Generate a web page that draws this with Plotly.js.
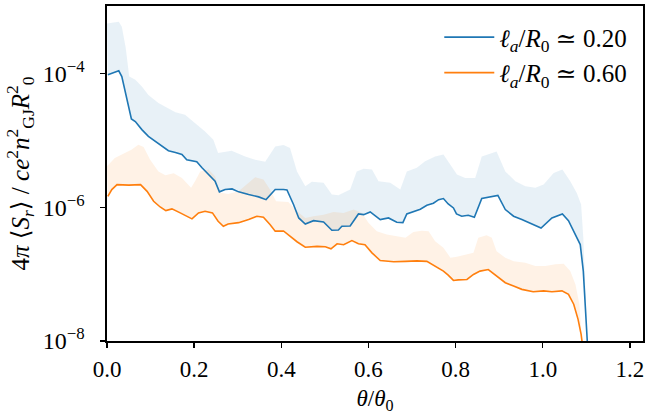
<!DOCTYPE html>
<html>
<head>
<meta charset="utf-8">
<script src="https://cdn.plot.ly/plotly-3.0.1.min.js"></script>
<style>html,body{margin:0;padding:0;background:#fff;}#chart{width:647px;height:414px;}</style>
</head>
<body>
<div id="chart"></div>
<script>
// series 1: l_a/R0 ~ 0.20 (blue)
const blueX = [0.002,0.027,0.034,0.042,0.050,0.056,0.065,0.080,0.095,0.111,0.126,0.141,0.157,0.172,0.183,0.206,0.218,0.233,0.248,0.258,0.271,0.287,0.302,0.325,0.348,0.365,0.386,0.405,0.413,0.428,0.440,0.455,0.474,0.497,0.516,0.531,0.539,0.558,0.577,0.589,0.604,0.627,0.646,0.665,0.679,0.688,0.703,0.719,0.734,0.749,0.761,0.772,0.783,0.795,0.802,0.814,0.829,0.843,0.860,0.879,0.897,0.914,0.933,0.952,0.971,0.996,1.021,1.045,1.059,1.072,1.086,1.093,1.099,1.103];
const blueY = [9.55e-5,1.10e-4,9.0e-5,5.37e-5,3.02e-5,2.09e-5,1.91e-5,1.45e-5,1.15e-5,9.66e-6,8.13e-6,7.01e-6,6.61e-6,6.17e-6,5.13e-6,4.79e-6,3.89e-6,3.09e-6,2.45e-6,1.70e-6,1.84e-6,1.88e-6,1.70e-6,1.55e-6,1.43e-6,1.30e-6,1.84e-6,1.84e-6,1.82e-6,1.10e-6,6.92e-7,5.62e-7,6.31e-7,6.03e-7,4.54e-7,4.57e-7,5.20e-7,5.25e-7,7.94e-7,7.76e-7,8.51e-7,6.55e-7,6.92e-7,5.97e-7,5.89e-7,7.94e-7,8.51e-7,9.33e-7,1.07e-6,1.15e-6,1.30e-6,1.35e-6,1.12e-6,9.77e-7,7.94e-7,7.35e-7,7.59e-7,7.08e-7,1.35e-6,1.41e-6,1.50e-6,9.25e-7,7.35e-7,6.55e-7,5.85e-7,4.90e-7,6.92e-7,7.94e-7,6.31e-7,4.15e-7,2.77e-7,1.11e-7,2.82e-8,7.9e-9];
const blueUpX = [0.0,0.027,0.034,0.043,0.051,0.065,0.080,0.095,0.118,0.141,0.157,0.179,0.202,0.225,0.244,0.255,0.286,0.317,0.340,0.363,0.374,0.386,0.405,0.420,0.436,0.455,0.470,0.497,0.516,0.531,0.558,0.573,0.589,0.608,0.623,0.650,0.673,0.688,0.711,0.730,0.753,0.772,0.788,0.803,0.822,0.845,0.860,0.875,0.894,0.914,0.937,0.960,0.983,1.002,1.025,1.045,1.063,1.078,1.088,1.093,1.099,1.103];
const blueUpY = [5.62e-4,5.97e-4,5.01e-4,2.40e-4,9.0e-5,8.05e-5,6.40e-5,4.79e-5,3.61e-5,3.02e-5,2.63e-5,2.42e-5,1.82e-5,1.36e-5,1.02e-5,6.46e-6,7.01e-6,5.75e-6,5.13e-6,4.79e-6,6.17e-6,8.13e-6,8.5e-6,7.71e-6,3.44e-6,2.06e-6,2.40e-6,2.32e-6,1.55e-6,1.51e-6,1.84e-6,3.44e-6,3.78e-6,3.67e-6,2.45e-6,2.32e-6,1.84e-6,3.44e-6,3.89e-6,4.86e-6,5.75e-6,6.17e-6,4.34e-6,3.09e-6,2.75e-6,2.75e-6,5.75e-6,6.17e-6,6.85e-6,3.44e-6,2.45e-6,2.06e-6,1.95e-6,2.19e-6,3.26e-6,3.67e-6,2.45e-6,1.64e-6,1.10e-6,3.49e-7,3.55e-8,7.9e-9];

// series 2: l_a/R0 ~ 0.60 (orange)
const orangeX = [0.002,0.011,0.023,0.040,0.050,0.077,0.092,0.107,0.122,0.135,0.149,0.168,0.183,0.195,0.210,0.225,0.242,0.255,0.267,0.278,0.302,0.325,0.344,0.359,0.374,0.386,0.405,0.420,0.436,0.455,0.482,0.501,0.514,0.528,0.543,0.562,0.577,0.592,0.608,0.627,0.658,0.685,0.711,0.734,0.753,0.772,0.783,0.795,0.806,0.826,0.841,0.856,0.875,0.894,0.914,0.933,0.952,0.978,1.002,1.021,1.044,1.059,1.071,1.081,1.088,1.092];
const orangeY = [1.46e-6,1.84e-6,2.18e-6,2.14e-6,2.14e-6,2.18e-6,1.73e-6,1.23e-6,1.01e-6,8.91e-7,9.46e-7,8.24e-7,7.35e-7,6.71e-7,8.24e-7,8.71e-7,8.24e-7,6.17e-7,5.20e-7,5.62e-7,5.89e-7,6.55e-7,7.35e-7,7.08e-7,5.52e-7,4.39e-7,4.42e-7,3.69e-7,3.05e-7,2.53e-7,2.60e-7,2.57e-7,2.39e-7,2.84e-7,2.75e-7,3.18e-7,2.84e-7,2.75e-7,2.08e-7,1.60e-7,1.53e-7,1.55e-7,1.58e-7,1.55e-7,1.32e-7,1.11e-7,9.66e-8,8.05e-8,8.2e-8,8.32e-8,9.89e-8,1.11e-7,1.17e-7,9.33e-8,7.45e-8,6.62e-8,5.92e-8,5.46e-8,5.62e-8,5.46e-8,5.62e-8,4.98e-8,3.55e-8,2.11e-8,1.26e-8,7.9e-9];
const orangeUpX = [0.0,0.018,0.041,0.056,0.072,0.084,0.099,0.118,0.134,0.153,0.172,0.193,0.202,0.214,0.233,0.248,0.259,0.278,0.302,0.321,0.340,0.359,0.374,0.388,0.405,0.416,0.436,0.455,0.474,0.497,0.520,0.543,0.566,0.585,0.600,0.619,0.642,0.665,0.685,0.703,0.722,0.738,0.753,0.772,0.788,0.803,0.822,0.841,0.852,0.871,0.883,0.894,0.914,0.933,0.960,0.983,1.006,1.029,1.048,1.063,1.075,1.084,1.090,1.092];
const orangeUpY = [4.09e-6,5.46e-6,6.46e-6,7.26e-6,8.63e-6,7.94e-6,5.13e-6,3.44e-6,3.01e-6,3.24e-6,2.75e-6,1.95e-6,2.45e-6,3.44e-6,3.67e-6,2.92e-6,1.67e-6,1.58e-6,1.74e-6,2.19e-6,2.81e-6,2.60e-6,1.84e-6,1.23e-6,1.23e-6,1.20e-6,8.71e-7,6.92e-7,7.35e-7,7.76e-7,8.51e-7,8.24e-7,9.25e-7,8.24e-7,5.85e-7,4.39e-7,3.92e-7,3.69e-7,3.49e-7,4.27e-7,4.47e-7,4.39e-7,3.11e-7,2.48e-7,1.76e-7,1.82e-7,1.95e-7,2.09e-7,3.49e-7,3.82e-7,3.49e-7,2.20e-7,1.76e-7,1.56e-7,1.48e-7,1.32e-7,1.32e-7,1.40e-7,1.43e-7,1.11e-7,7.01e-8,3.55e-8,1.0e-8,7.9e-9];

const seriesNames = ["<i>ℓ<sub>a</sub></i>/<i>R</i><sub>0</sub> ≃ 0.20", "<i>ℓ<sub>a</sub></i>/<i>R</i><sub>0</sub> ≃ 0.60"];
const xTickVals = [0, 0.2, 0.4, 0.6, 0.8, 1.0, 1.2];
const yTickVals = [1e-8, 1e-6, 1e-4];
const yTickText = ["10<sup>−8</sup>", "10<sup>−6</sup>", "10<sup>−4</sup>"];

const BLUE = "#1f77b4", ORANGE = "#ff7f0e";

function band(xl, yl, xu, yu, color) {
  return {
    x: xu.concat(xl.slice().reverse()),
    y: yu.concat(yl.slice().reverse()),
    type: "scatter", mode: "lines", fill: "toself",
    fillcolor: color, line: {width: 0, color: "rgba(0,0,0,0)"},
    hoverinfo: "skip", showlegend: false
  };
}

const traces = [
  band(blueX, blueY, blueUpX, blueUpY, "rgba(31,119,180,0.1)"),
  band(orangeX, orangeY, orangeUpX, orangeUpY, "rgba(255,127,14,0.1)"),
  {x: blueX, y: blueY, type: "scatter", mode: "lines", name: seriesNames[0],
   line: {color: BLUE, width: 1.6}},
  {x: orangeX, y: orangeY, type: "scatter", mode: "lines", name: seriesNames[1],
   line: {color: ORANGE, width: 1.6}}
];

const FONT = "'Liberation Serif', 'DejaVu Serif', serif";

const layout = {
  width: 647, height: 414,
  margin: {l: 107, r: 4, t: 6, b: 73},
  paper_bgcolor: "#fff", plot_bgcolor: "#fff",
  font: {family: FONT, size: 23, color: "#000"},
  showlegend: true,
  legend: {x: 0.98, y: 0.975, xanchor: "right", yanchor: "top",
           bgcolor: "rgba(255,255,255,0)", borderwidth: 0, itemwidth: 50,
           font: {family: FONT, size: 25, color: "#000"}},
  xaxis: {
    range: [0, 1.23], tickvals: xTickVals, tickformat: ".1f",
    showline: true, mirror: true, linecolor: "#000", linewidth: 1.6,
    ticks: "outside", ticklen: 5, tickwidth: 1.4, tickcolor: "#000",
    showgrid: false, zeroline: false, ticklabelstandoff: 2,
    tickfont: {family: FONT, size: 23},
    title: {text: "<i>θ</i>/<i>θ</i><sub>0</sub>", font: {family: FONT, size: 23}, standoff: 14}
  },
  yaxis: {
    type: "log", range: [-8, -2.99], tickvals: yTickVals, ticktext: yTickText,
    showline: true, mirror: true, linecolor: "#000", linewidth: 1.6,
    ticks: "outside", ticklen: 5, tickwidth: 1.4, tickcolor: "#000",
    showgrid: false, zeroline: false, ticklabelstandoff: 11,
    tickfont: {family: FONT, size: 24},
    title: {text: "4<i>π</i> ⟨<i>S<sub>r</sub></i>⟩ / <i>ce</i><sup>2</sup><i>n</i><sup>2</sup><sub>GJ</sub><i>R</i><sup>2</sup><sub>0</sub>", font: {family: FONT, size: 25}, standoff: 6}
  }
};

Plotly.newPlot("chart", traces, layout, {displayModeBar: false, staticPlot: true});
</script>
</body>
</html>
